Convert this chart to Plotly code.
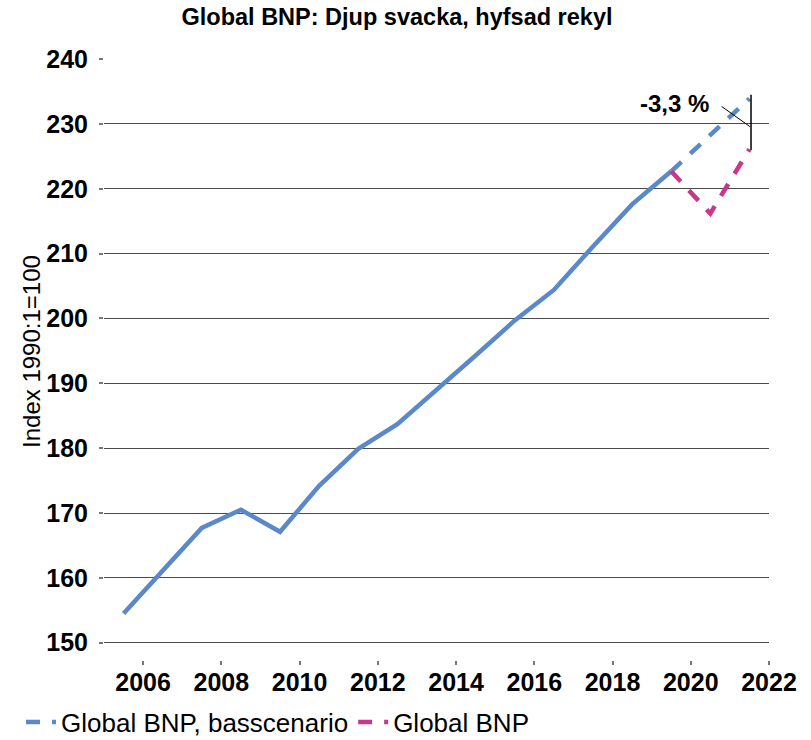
import plotly.graph_objects as go

# ---- data ----
years_hist = [2005.5, 2006.5, 2007.5, 2008.5, 2009.5, 2010.5, 2011.5, 2012.5,
              2013.5, 2014.5, 2015.5, 2016.5, 2017.5, 2018.5, 2019.5]
bnp_hist = [154.5, 161.1, 167.7, 170.5, 167.1, 174.2, 179.9, 183.7,
            188.9, 194.3, 199.7, 204.4, 211.1, 217.6, 222.7]

years_fc = [2019.5, 2020.5, 2021.5]
bnp_base = [222.7, 228.2, 233.9]     # Global BNP, basscenario
bnp_new = [222.7, 216.2, 226.1]      # Global BNP

x_ticks = [2006, 2008, 2010, 2012, 2014, 2016, 2018, 2020, 2022]
y_ticks = [150, 160, 170, 180, 190, 200, 210, 220, 230, 240]

title = "Global BNP: Djup svacka, hyfsad rekyl"
y_title = "Index 1990:1=100"
name_base = "Global BNP, basscenario"
name_new = "Global BNP"

BLUE = "#5a88c8"
PINK = "#c8378a"
FONT = "Liberation Sans"

pct = (bnp_new[-1] / bnp_base[-1] - 1) * 100
pct_label = f"{pct:.1f}".replace(".", ",") + " %"

fig = go.Figure()
fig.add_trace(go.Scatter(x=years_hist, y=bnp_hist, mode="lines",
                         line=dict(color=BLUE, width=4.5),
                         legendgroup="base", showlegend=False, hoverinfo="skip"))
fig.add_trace(go.Scatter(x=years_fc, y=bnp_base, mode="lines", name=name_base,
                         line=dict(color=BLUE, width=4.5, dash="14px,12px"),
                         legendgroup="base"))
fig.add_trace(go.Scatter(x=years_fc, y=bnp_new, mode="lines", name=name_new,
                         line=dict(color=PINK, width=4.5, dash="14px,12px")))

# bracket marking the difference at the last point
xe = years_fc[-1] + 0.04
fig.add_shape(type="line", xref="x", yref="y", x0=xe, x1=xe,
              y0=bnp_base[-1] + 0.6, y1=bnp_new[-1] - 0.1,
              line=dict(color="black", width=1.5))
ymid = bnp_base[-1] - 4.3
fig.add_shape(type="line", xref="x", yref="y", x0=xe - 0.75, x1=xe - 0.03,
              y0=ymid + 3.1, y1=ymid, line=dict(color="black", width=1))
fig.add_annotation(x=xe - 1.03, y=ymid + 3.6, xref="x", yref="y",
                   text=f"<b>{pct_label}</b>", showarrow=False,
                   xanchor="right", yanchor="middle",
                   font=dict(family=FONT, size=24, color="black"))

# y-axis title (placed relative to the plot area)
fig.add_annotation(x=(32 - 104) / 665, xref="x domain",
                   y=0.5125, yref="y domain", text=y_title, showarrow=False,
                   textangle=-90, xanchor="center", yanchor="middle",
                   font=dict(family=FONT, size=24, color="black"))

fig.update_layout(
    width=811, height=740,
    margin=dict(l=104, r=42, t=59, b=80),
    paper_bgcolor="white", plot_bgcolor="white",
    title=dict(text=f"<b>{title}</b>", x=397 / 811, xref="container",
               y=1 - 17 / 740, yref="container", yanchor="middle",
               xanchor="center",
               font=dict(family=FONT, size=23.5, color="black")),
    showlegend=True,
    legend=dict(orientation="h", xref="container", yref="container",
                x=21 / 811, xanchor="left", y=1 - 722 / 740, yanchor="middle",
                font=dict(family=FONT, size=26, color="black"),
                tracegroupgap=0, bgcolor="rgba(0,0,0,0)"),
    font=dict(family=FONT, color="black"),
)

fig.update_xaxes(range=[2005, 2022], tickvals=x_ticks,
                 ticktext=[str(t) for t in x_ticks],
                 showgrid=False, zeroline=False, showline=False, automargin=False,
                 ticks="outside", ticklen=4, tickcolor="#777777", tickwidth=1.5,
                 tickfont=dict(family=FONT, size=25, color="black", weight="bold"),
                 ticklabelstandoff=-4)
fig.update_yaxes(range=[147.33, 240.02], tickvals=y_ticks,
                 showgrid=True, gridcolor="#4a4a4a", gridwidth=1,
                 zeroline=False, showline=False, automargin=False,
                 ticks="outside", ticklen=4, tickcolor="#777777", tickwidth=1.5,
                 tickfont=dict(family=FONT, size=25, color="black", weight="bold"),
                 ticklabelstandoff=6)

fig.write_html("out.html", config={"displayModeBar": False},
               post_script="document.body.style.margin='0';")
